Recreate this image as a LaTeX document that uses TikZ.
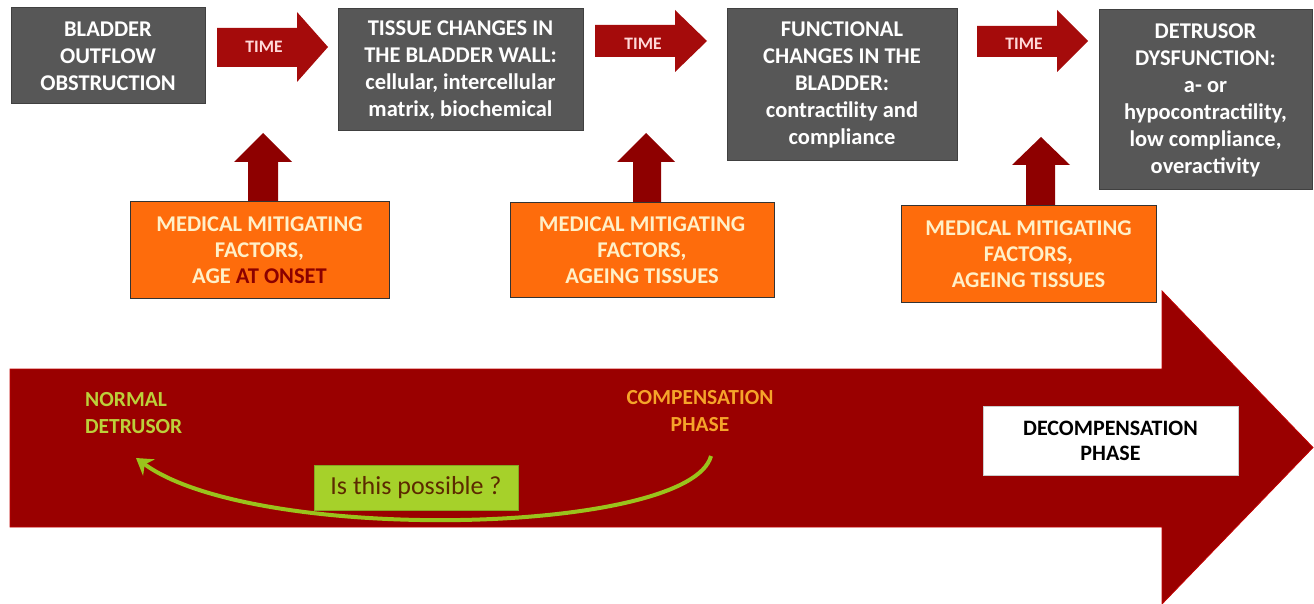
\documentclass[tikz,border=0pt]{standalone}
\usepackage{fontspec}
\setmainfont{Carlito}
\usetikzlibrary{arrows.meta}
\definecolor{boxgray}{HTML}{575757}
\definecolor{timered}{HTML}{A50B0B}
\definecolor{upred}{HTML}{8E0000}
\definecolor{bigred}{HTML}{9A0000}
\definecolor{orangebox}{HTML}{FE6C0C}
\definecolor{paletext}{HTML}{FFF0C8}
\definecolor{onset}{HTML}{8B0000}
\definecolor{normalgreen}{HTML}{BCD03A}
\definecolor{compyellow}{HTML}{F5A42A}
\definecolor{limebox}{HTML}{A6D12A}
\definecolor{possible}{HTML}{5C2A00}
\definecolor{curvegreen}{HTML}{9AC31C}
\tikzset{
  graybox/.style={draw=black!75, fill=boxgray, line width=1pt, text=white, align=center, inner sep=0pt,
    font=\bfseries\fontsize{22.5}{27}\selectfont},
  orangebx/.style={draw=black!80, fill=orangebox, line width=1pt, text=paletext, align=center, inner sep=0pt,
    font=\bfseries\fontsize{22.5}{26}\selectfont},
  timelbl/.style={text=white!85!red, font=\bfseries\fontsize{17.5}{19}\selectfont, inner sep=0pt},
  phasetext/.style={font=\bfseries\fontsize{21.5}{27}\selectfont, inner sep=0pt},
}
\begin{document}
\begin{tikzpicture}[x=1pt,y=-1pt]
\useasboundingbox (0,0) rectangle (1314,604);
% top gray boxes
\node[graybox, minimum width=194pt, minimum height=96pt] (b1) at (108,56) {BLADDER\\OUTFLOW\\OBSTRUCTION};
\node[graybox, minimum width=245pt, minimum height=122pt] (b2) at (460.5,70) {TISSUE CHANGES IN\\THE BLADDER WALL:\\cellular, intercellular\\matrix, biochemical};
\node[graybox, minimum width=230pt, minimum height=152pt] (b3) at (842,85) {FUNCTIONAL\\CHANGES IN THE\\BLADDER:\\contractility and\\compliance};
\node[graybox, minimum width=213pt, minimum height=180pt] (b4) at (1205.5,100) {DETRUSOR\\DYSFUNCTION:\\a- or\\hypocontractility,\\low compliance,\\overactivity};
% TIME arrows
\fill[timered] (217,28) -- (297,28) -- (297,12) -- (328,47) -- (297,82) -- (297,67) -- (217,67) -- cycle;
\node[timelbl] (t1) at (264,47) {TIME};
\fill[timered] (595,25) -- (675,25) -- (675,10) -- (707,41) -- (675,72) -- (675,57) -- (595,57) -- cycle;
\node[timelbl] (t2) at (643,44) {TIME};
\fill[timered] (977,26) -- (1057,26) -- (1057,10) -- (1088,41) -- (1057,72) -- (1057,57) -- (977,57) -- cycle;
\node[timelbl] (t3) at (1024,44) {TIME};
% up arrows
\fill[upred] (248,202) -- (248,162) -- (234,162) -- (263,133) -- (292,162) -- (278,162) -- (278,202) -- cycle;
\fill[upred] (633,203) -- (633,162) -- (617,162) -- (646,133) -- (675,162) -- (661,162) -- (661,203) -- cycle;
\fill[upred] (1026,206) -- (1026,165) -- (1012,165) -- (1041,137) -- (1070,165) -- (1055,165) -- (1055,206) -- cycle;
% orange boxes
\node[orangebx, minimum width=259pt, minimum height=96pt] (o1) at (259.5,250) {MEDICAL MITIGATING\\FACTORS,\\AGE \textcolor{onset}{AT ONSET}};
\node[orangebx, minimum width=264pt, minimum height=95pt] (o2) at (642,250) {MEDICAL MITIGATING\\FACTORS,\\AGEING TISSUES};
\node[orangebx, minimum width=255pt, minimum height=97pt] (o3) at (1028.5,254) {MEDICAL MITIGATING\\FACTORS,\\AGEING TISSUES};
% big arrow
\filldraw[fill=bigred, draw=red!40!bigred, line width=0.8pt] (10,369) -- (1162,369) -- (1162,291) -- (1313,447.5) -- (1162,604) -- (1162,527) -- (10,527) -- cycle;
% phase texts
\node[phasetext, text=normalgreen, align=left, anchor=west] (nd) at (85,413) {NORMAL\\DETRUSOR};
\node[phasetext, text=compyellow, align=center] (cp) at (700,411) {COMPENSATION\\PHASE};
\node[phasetext, fill=white, draw=black!20, minimum width=255pt, minimum height=69pt, align=center, text=black,
  font=\bfseries\fontsize{22}{25}\selectfont] (dp) at (1110.5,441) {DECOMPENSATION\\PHASE};
% curved arrow
\coordinate (cs) at (711,456);
\coordinate (ce) at (136,458);
\draw[curvegreen, line width=4pt, -{Stealth[length=16pt,width=20pt]}] (cs) .. controls (690,535) and (255,545) .. (ce);
\node[fill=limebox, draw=limebox!80!black, line width=0.6pt, minimum width=204pt, minimum height=45pt, inner sep=0pt,
  text=possible, font=\fontsize{26}{28}\selectfont] (ip) at (416,487.5) {Is this possible ?};
\end{tikzpicture}
\end{document}
